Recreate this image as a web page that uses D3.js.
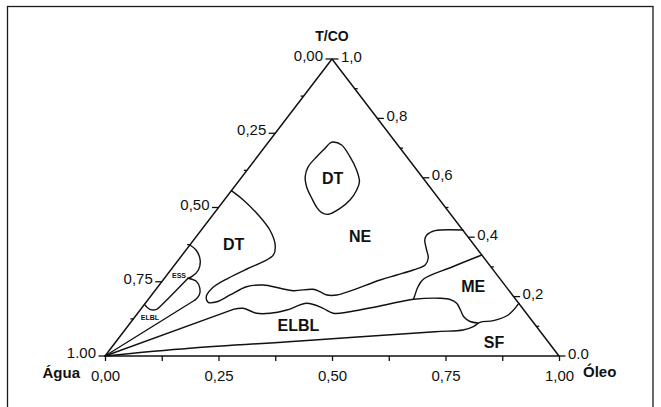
<!DOCTYPE html>
<html><head><meta charset="utf-8">
<script src="https://cdn.jsdelivr.net/npm/d3@7"></script>
<style>
body{margin:0;background:#fff}
svg{display:block}
text{font-family:"Liberation Sans",Arial,Helvetica,sans-serif;fill:#111}
</style>
</head><body>
<svg id="c" width="661" height="407"></svg>
<script>
// ---------- DATA (ternary coordinates: [oil fraction, T/CO fraction]) ----------
const bottomTicks = [0, 0.125, 0.25, 0.375, 0.5, 0.625, 0.75, 0.875, 1];
const bottomLabels = {0: "0,00", 0.25: "0,25", 0.5: "0,50", 0.75: "0,75", 1: "1,00"};
const leftTicks = [0, 0.125, 0.25, 0.375, 0.5, 0.625, 0.75, 0.875, 1];   // water fraction
const leftLabels = {0: "0,00", 0.25: "0,25", 0.5: "0,50", 0.75: "0,75", 1: "1.00"};
const rightTicks = [0, 0.1, 0.2, 0.3, 0.4, 0.5, 0.6, 0.7, 0.8, 0.9, 1];    // T/CO fraction
const rightLabels = {0: "0.0", 0.2: "0,2", 0.4: "0,4", 0.6: "0,6", 0.8: "0,8", 1: "1,0"};

const dtCentral = [[0.1425,0.7205],[0.166,0.7104],[0.204,0.671],[0.241,0.6263],[0.267,0.5869],
  [0.275,0.5589],[0.277,0.5253],[0.269,0.4973],[0.253,0.4771],[0.236,0.4825],[0.216,0.5007],
  [0.190,0.531],[0.159,0.570],[0.139,0.6037],[0.129,0.6374],[0.131,0.671],[0.135,0.6993],[0.137,0.7162]];

const neLowerBoundary = [[0,0.5566],[0.042,0.5253],[0.094,0.4805],[0.151,0.4242],[0.188,0.3737],
  [0.201,0.3401],[0.190,0.3175],[0.166,0.2929],[0.140,0.2616],[0.122,0.229],[0.123,0.2003],
  [0.137,0.1808],[0.155,0.1828],[0.173,0.2054],[0.195,0.2333],[0.229,0.239],[0.272,0.228],
  [0.305,0.2199],[0.346,0.2246],[0.365,0.2165],[0.386,0.2054],[0.408,0.2054],[0.478,0.2559],
  [0.506,0.2727],[0.534,0.2896],[0.552,0.3064],[0.547,0.33],[0.530,0.3569],[0.509,0.3906],
  [0.505,0.4074],[0.516,0.4219],[0.576,0.424]];

const meUpperBoundary = [[0.66,0.34],[0.6145,0.2997],[0.572,0.2582],[0.573,0.2323],[0.580,0.2054],[0.584,0.1909]];

const elblUpperStart = [[0,0],[0.204,0.1572]];
const elblUpper = [[0.204,0.1572],[0.224,0.1606],[0.262,0.1438],[0.292,0.1438],[0.323,0.1549],
  [0.356,0.1774],[0.400,0.1606],[0.431,0.1438],[0.465,0.1492],[0.515,0.166],[0.565,0.1852],
  [0.584,0.1909],[0.641,0.1943],[0.665,0.1902],[0.686,0.1774],[0.7055,0.1549],[0.725,0.1313],
  [0.746,0.1162],[0.766,0.1111]];

const sfUpper = [[0,0],[0.174,0.0259],[0.404,0.0505],[0.686,0.0818],[0.745,0.0875],[0.762,0.0987],
  [0.769,0.1135],[0.796,0.1189],[0.819,0.138],[0.823,0.177]];

const essUpperLobe = [[0,0.3737],[0.022,0.3569],[0.048,0.3232],[0.061,0.2896],[0.0575,0.267],[0.052,0.2616]];
const essLowerLobe = [[0.052,0.2616],[0.077,0.2502],[0.095,0.228],[0.105,0.2054],[0.104,0.1886]];
const essLowerLine = [[0.104,0.1886],[0,0]];
const essInner = [[0.052,0.2616],[0.039,0.1717],[0.035,0.1572],[0.0205,0.1572],[0,0.174]];

const regionLabels = [
  {text:"DT", p:[0.203,0.597], big:true},
  {text:"DT", p:[0.095,0.377], big:true},
  {text:"NE", p:[0.360,0.404], big:true},
  {text:"ME", p:[0.693,0.236], big:true},
  {text:"ELBL", p:[0.374,0.104], big:true},
  {text:"SF", p:[0.834,0.0455], big:true},
  {text:"ESS", p:[0.0284,0.2694], big:false},
  {text:"ELBL", p:[0.0335,0.1313], big:false}
];

// ---------- SCALES ----------
const X = d3.scaleLinear().domain([0,1]).range([105,559]);  // along base
const Yt = d3.scaleLinear().domain([0,1]).range([356,59]);  // T/CO height
const px = d => X(d[0] + d[1]/2);
const py = d => Yt(d[1]);

const svg = d3.select("#c");

// frame
svg.append("rect").attr("x",7.5).attr("y",6.5).attr("width",645.5).attr("height",420)
  .attr("fill","none").attr("stroke","#1a1a1a").attr("stroke-width",1.3);

const smooth = d3.line().x(px).y(py).curve(d3.curveCatmullRom.alpha(0.5));
const straight = d3.line().x(px).y(py);
const closedSmooth = d3.line().x(px).y(py).curve(d3.curveCatmullRomClosed.alpha(0.5));

const g = svg.append("g").attr("fill","none").attr("stroke","#111").attr("stroke-width",1.4)
  .attr("stroke-linejoin","round").attr("stroke-linecap","round");

// triangle
g.append("path").attr("d", straight([[0,0],[1,0],[0,1]]) + "Z").attr("stroke-width",1.5);

// boundaries
g.append("path").attr("d", closedSmooth(dtCentral));
[neLowerBoundary, meUpperBoundary, elblUpper, sfUpper, essUpperLobe, essLowerLobe, essInner]
  .forEach(c => g.append("path").attr("d", smooth(c)));
[elblUpperStart, essLowerLine].forEach(c => g.append("path").attr("d", straight(c)));

// bottom axis (oil)
const axB = d3.axisBottom(X).tickValues(bottomTicks).tickSize(5).tickSizeOuter(0).tickPadding(9)
  .tickFormat(v => bottomLabels[v] !== undefined ? bottomLabels[v] : "");
const gb = svg.append("g").attr("transform",`translate(0,${Yt(0)})`).call(axB);
gb.select(".domain").remove();
gb.selectAll("line").attr("stroke","#111").attr("stroke-width",1.3);
gb.selectAll("text").style("font-size","15px").attr("fill","#111")
  .style("font-family",'"Liberation Sans",Arial,sans-serif');

// left axis (water): points on left edge (oil=0, tco=1-w)
const ga = svg.append("g");
leftTicks.forEach(w => {
  const p = [0, 1 - w];
  const major = leftLabels[w] !== undefined;
  const x0 = px(p), y0 = py(p);
  ga.append("line").attr("x1",x0).attr("y1",y0).attr("x2",x0 - (major?6.5:3)).attr("y2",y0)
    .attr("stroke","#111").attr("stroke-width",1.3);
  if (major) ga.append("text").attr("x",x0-9).attr("y",y0+2).attr("text-anchor","end")
    .style("font-size","15px").text(leftLabels[w]);
});

// right axis (T/CO): points on right edge (oil=1-t, tco=t)
rightTicks.forEach(t => {
  const p = [1 - t, t];
  const major = rightLabels[t] !== undefined;
  const x0 = px(p), y0 = py(p);
  ga.append("line").attr("x1",x0).attr("y1",y0).attr("x2",x0 + (major?6.5:3)).attr("y2",y0)
    .attr("stroke","#111").attr("stroke-width",1.3);
  if (major) ga.append("text").attr("x",x0+9).attr("y",y0+2.5).attr("text-anchor","start")
    .style("font-size","15px").text(rightLabels[t]);
});

// axis titles
svg.append("text").attr("x",px([0,1])).attr("y",40.5).attr("text-anchor","middle")
  .style("font-size","14px").style("font-weight","bold").text("T/CO");
svg.append("text").attr("x",px([0,0]) - 25).attr("y",378).attr("text-anchor","end")
  .style("font-size","15px").style("font-weight","bold").text("Água");
svg.append("text").attr("x",px([1,0]) + 24).attr("y",377).attr("text-anchor","start")
  .style("font-size","15px").style("font-weight","bold").text("Óleo");

// region labels
regionLabels.forEach(l => {
  svg.append("text").attr("x",px(l.p)).attr("y",py(l.p) + (l.big?5.7:2.5))
    .attr("text-anchor","middle").style("font-weight","bold")
    .style("font-size", l.big ? "16px" : "7px").text(l.text);
});
</script>
</body></html>
